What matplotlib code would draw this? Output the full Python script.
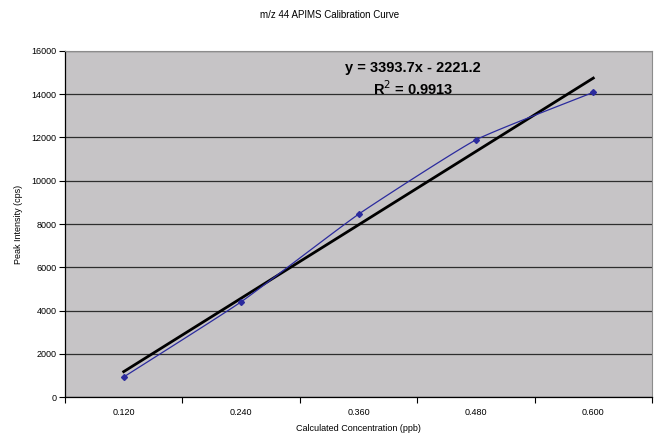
import matplotlib
matplotlib.use("Agg")
import matplotlib.pyplot as plt
import numpy as np

plt.rcParams["font.family"] = ["Liberation Sans", "DejaVu Sans"]

concentracoes = ["0.120", "0.240", "0.360", "0.480", "0.600"]
intensidade = [925, 4400, 8450, 11890, 14090]
equacao = "y = 3393.7x - 2221.2"
r_quadrado = "R$^2$ = 0.9913"

COR_FUNDO = "#C6C4C6"
COR_SERIE = "#2B2B9E"


def _suavizar(x, y, tensao=0.45, passos=20):
    # hermite cubica com tangentes reduzidas (curvatura leve, como no Excel)
    n = len(x)
    mx = np.zeros(n)
    my = np.zeros(n)
    for i in range(n):
        a, b = max(i - 1, 0), min(i + 1, n - 1)
        mx[i] = tensao * (x[b] - x[a]) / (b - a) if b > a else 0
        my[i] = tensao * (y[b] - y[a]) / (b - a) if b > a else 0
    t = np.linspace(0, 1, passos)
    h00 = 2 * t**3 - 3 * t**2 + 1
    h10 = t**3 - 2 * t**2 + t
    h01 = -2 * t**3 + 3 * t**2
    h11 = t**3 - t**2
    xs, ys = [], []
    for i in range(n - 1):
        xs.extend(h00 * x[i] + h10 * mx[i] + h01 * x[i + 1] + h11 * mx[i + 1])
        ys.extend(h00 * y[i] + h10 * my[i] + h01 * y[i + 1] + h11 * my[i + 1])
    return np.array(xs), np.array(ys)


fig = plt.figure(figsize=(6.59, 4.36), dpi=100)
fig.patch.set_facecolor("white")
ax = fig.add_axes([65 / 659, 1 - 397 / 436, 587 / 659, 346 / 436])
ax.set_facecolor(COR_FUNDO)

x = np.arange(1, len(concentracoes) + 1, dtype=float)
y = np.array(intensidade, dtype=float)

xs, ys = _suavizar(x, y)
ax.plot(xs, ys, color=COR_SERIE, linewidth=0.9, zorder=3)
ax.plot(x, y, linestyle="none", marker="D", markersize=3.0,
        color=COR_SERIE, zorder=4)

inclinacao, intercepto = 3393.7, -2221.2
ax.plot(x[[0, -1]], inclinacao * x[[0, -1]] + intercepto,
        color="black", linewidth=2.0, zorder=2)

ax.set_xlim(0.5, len(x) + 0.5)
ax.set_ylim(0, 16000)
ax.set_yticks(np.arange(0, 16001, 2000))
ax.set_xticks(x)
ax.set_xticklabels(concentracoes)
ax.set_xticks(np.arange(0.5, len(x) + 1, 1.0), minor=True)
ax.tick_params(axis="x", which="major", length=0, pad=8, labelsize=6.5)
ax.tick_params(axis="x", which="minor", length=4, width=0.8, direction="out")
ax.tick_params(axis="y", length=4, width=0.8, direction="out", labelsize=6.5, pad=2)

ax.yaxis.grid(True, color="#2E2E2E", linewidth=0.9, zorder=1)
ax.set_axisbelow(True)

for lado in ("top", "right"):
    ax.spines[lado].set_color("#8C8C8C")
    ax.spines[lado].set_linewidth(0.8)
for lado in ("left", "bottom"):
    ax.spines[lado].set_color("black")
    ax.spines[lado].set_linewidth(0.9)

ax.set_xlabel("Calculated Concentration (ppb)", fontsize=6.5, labelpad=5)
ax.set_ylabel("Peak Intensity (cps)", fontsize=6.5, labelpad=6)

ax.text(0.593, 0.952, equacao, transform=ax.transAxes, ha="center", va="center",
        fontsize=10.5, fontweight="bold", zorder=5)
ax.text(0.593, 0.890, r_quadrado, transform=ax.transAxes, ha="center", va="center",
        fontsize=10.5, fontweight="bold", zorder=5)

fig.text(0.5, 1 - 15 / 436, "m/z 44 APIMS Calibration Curve", ha="center",
         va="center", fontsize=7)

fig.savefig("out.png", dpi=100, facecolor=fig.get_facecolor())
plt.close(fig)
